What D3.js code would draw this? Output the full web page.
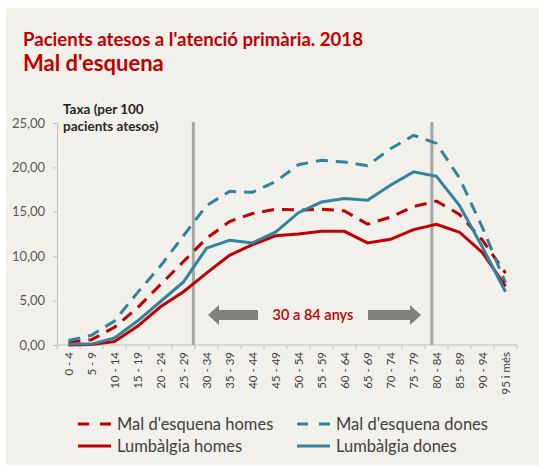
<!DOCTYPE html>
<html>
<head>
<meta charset="utf-8">
<script src="https://cdn.jsdelivr.net/npm/d3@7"></script>
<style>
  body { margin: 0; background: #fff; }
  svg { display: block; font-family: Lato, "Open Sans", sans-serif; }
</style>
</head>
<body>
<svg id="chart"></svg>
<script>
var width = 539;
var height = 467;

// age groups
var ageGroups = ["0 - 4", "5 - 9", "10 - 14", "15 - 19", "20 - 24", "25 - 29", "30 - 34", "35 - 39",
    "40 - 44", "45 - 49", "50 - 54", "55 - 59", "60 - 64", "65 - 69", "70 - 74", "75 - 79",
    "80 - 84", "85 - 89", "90 - 94", "95 i més"];

// rates per 100 patients
var malHomes = [0.3, 0.6, 2.0, 4.2, 6.8, 9.4, 12.0, 13.9, 14.8, 15.3, 15.2, 15.3, 15.1, 13.6, 14.4, 15.6, 16.2, 14.7, 11.8, 8.1];
var malDones = [0.5, 1.1, 2.7, 5.9, 8.9, 12.3, 15.7, 17.3, 17.2, 18.4, 20.3, 20.8, 20.6, 20.2, 22.1, 23.6, 22.7, 18.8, 13.2, 7.0];
var lumHomes = [0.0, 0.05, 0.4, 2.1, 4.3, 6.0, 8.1, 10.1, 11.3, 12.3, 12.5, 12.8, 12.8, 11.5, 11.9, 13.0, 13.6, 12.7, 10.4, 6.6];
var lumDones = [0.1, 0.1, 0.8, 2.7, 4.9, 7.1, 10.9, 11.8, 11.5, 12.7, 14.9, 16.1, 16.5, 16.3, 18.0, 19.5, 19.0, 15.7, 11.0, 6.0];

var yTicks = [0, 5, 10, 15, 20, 25];

var series = [
    { name: "Mal d'esquena homes", values: malHomes, color: "#c00000", dashed: true },
    { name: "Mal d'esquena dones", values: malDones, color: "#31849b", dashed: true },
    { name: "Lumbàlgia homes", values: lumHomes, color: "#c00000", dashed: false },
    { name: "Lumbàlgia dones", values: lumDones, color: "#31849b", dashed: false }
];

var svg = d3.select("#chart")
    .attr("width", width)
    .attr("height", height);

svg.append("rect")
    .attr("x", 6).attr("y", 8)
    .attr("width", 533).attr("height", 457)
    .attr("fill", "#f2f0ea");

svg.append("text")
    .attr("x", 23).attr("y", 46)
    .attr("font-size", 18.6).attr("font-weight", "bold")
    .attr("fill", "#c00000")
    .text("Pacients atesos a l'atenció primària. 2018");
svg.append("text")
    .attr("x", 23).attr("y", 71)
    .attr("font-size", 22).attr("font-weight", "bold")
    .attr("fill", "#c00000")
    .text("Mal d'esquena");

var x0 = 57, x1 = 517;
var x = d3.scalePoint().domain(ageGroups).range([x0, x1]).padding(0.5);
var xb = d3.scaleLinear().domain([0, ageGroups.length]).range([x0, x1]);
var y = d3.scaleLinear().domain([0, 25]).range([345, 123]);

var fmt = d3.formatLocale({ decimal: ",", thousands: ".", grouping: [3], currency: ["", "€"] }).format(".2f");

// y axis
var yAxis = svg.append("g").attr("transform", "translate(" + x0 + ",0)")
    .call(d3.axisLeft(y).tickValues(yTicks).tickFormat(fmt).tickSize(4).tickPadding(8));
yAxis.select(".domain").attr("stroke", "#bfbfbf");
yAxis.selectAll(".tick line").attr("stroke", "#bfbfbf");
yAxis.selectAll(".tick text").attr("font-size", 13).attr("fill", "#595959")
    .attr("font-family", "Lato, sans-serif");

// x axis
svg.append("line")
    .attr("x1", x0).attr("x2", x1)
    .attr("y1", y(0)).attr("y2", y(0))
    .attr("stroke", "#bfbfbf");
svg.append("g").selectAll("line")
    .data(d3.range(ageGroups.length + 1)).enter().append("line")
    .attr("x1", function (d) { return xb(d); })
    .attr("x2", function (d) { return xb(d); })
    .attr("y1", y(0)).attr("y2", y(0) + 4)
    .attr("stroke", "#bfbfbf");
svg.append("g").selectAll("text")
    .data(ageGroups).enter().append("text")
    .attr("transform", function (d) {
        return "translate(" + (x(d) + 4) + "," + (y(0) + 7) + ") rotate(-90)";
    })
    .attr("text-anchor", "end")
    .attr("font-size", 11.5)
    .attr("fill", "#404040")
    .text(function (d) { return d; });

// axis title
svg.append("text")
    .attr("x", 63).attr("y", 114)
    .attr("font-size", 13.5).attr("font-weight", "bold").attr("fill", "#262626")
    .text("Taxa (per 100");
svg.append("text")
    .attr("x", 63).attr("y", 131)
    .attr("font-size", 13.5).attr("font-weight", "bold").attr("fill", "#262626")
    .text("pacients atesos)");

// 30-84 markers
[5.93, 16.3].forEach(function (p) {
    svg.append("line")
        .attr("x1", xb(p)).attr("x2", xb(p))
        .attr("y1", 122).attr("y2", y(0))
        .attr("stroke", "#a6a6a6").attr("stroke-width", 3);
});

// arrows
var arrowY = 315;
svg.append("path")
    .attr("d", "M208," + arrowY + " L219," + (arrowY - 10) + " L219," + (arrowY - 5) +
        " L258," + (arrowY - 5) + " L258," + (arrowY + 5) + " L219," + (arrowY + 5) +
        " L219," + (arrowY + 10) + " Z")
    .attr("fill", "#808080");
svg.append("path")
    .attr("d", "M421," + arrowY + " L410," + (arrowY - 10) + " L410," + (arrowY - 5) +
        " L368," + (arrowY - 5) + " L368," + (arrowY + 5) + " L410," + (arrowY + 5) +
        " L410," + (arrowY + 10) + " Z")
    .attr("fill", "#808080");
svg.append("text")
    .attr("x", 313).attr("y", 320)
    .attr("text-anchor", "middle")
    .attr("font-size", 14.5).attr("font-weight", "600")
    .attr("fill", "#c00000")
    .text("30 a 84 anys");

// lines
var line = d3.line()
    .x(function (d, i) { return x(ageGroups[i]); })
    .y(function (d) { return y(d); });

svg.append("g").selectAll("path")
    .data(series).enter().append("path")
    .attr("d", function (d) { return line(d.values); })
    .attr("fill", "none")
    .attr("stroke", function (d) { return d.color; })
    .attr("stroke-width", 3)
    .attr("stroke-dasharray", function (d) { return d.dashed ? "12,8" : null; });

// legend
var legendPos = [[78, 424], [297, 424], [78, 446], [297, 446]];
var legend = svg.append("g").selectAll("g")
    .data(series).enter().append("g")
    .attr("transform", function (d, i) {
        return "translate(" + legendPos[i][0] + "," + legendPos[i][1] + ")";
    });
legend.append("line")
    .attr("x1", 0).attr("x2", 33)
    .attr("stroke", function (d) { return d.color; })
    .attr("stroke-width", 3)
    .attr("stroke-dasharray", function (d) { return d.dashed ? "11,11" : null; });
legend.append("text")
    .attr("x", 39).attr("y", 5.5)
    .attr("font-size", 16.5)
    .attr("fill", "#404040")
    .text(function (d) { return d.name; });
</script>
</body>
</html>
